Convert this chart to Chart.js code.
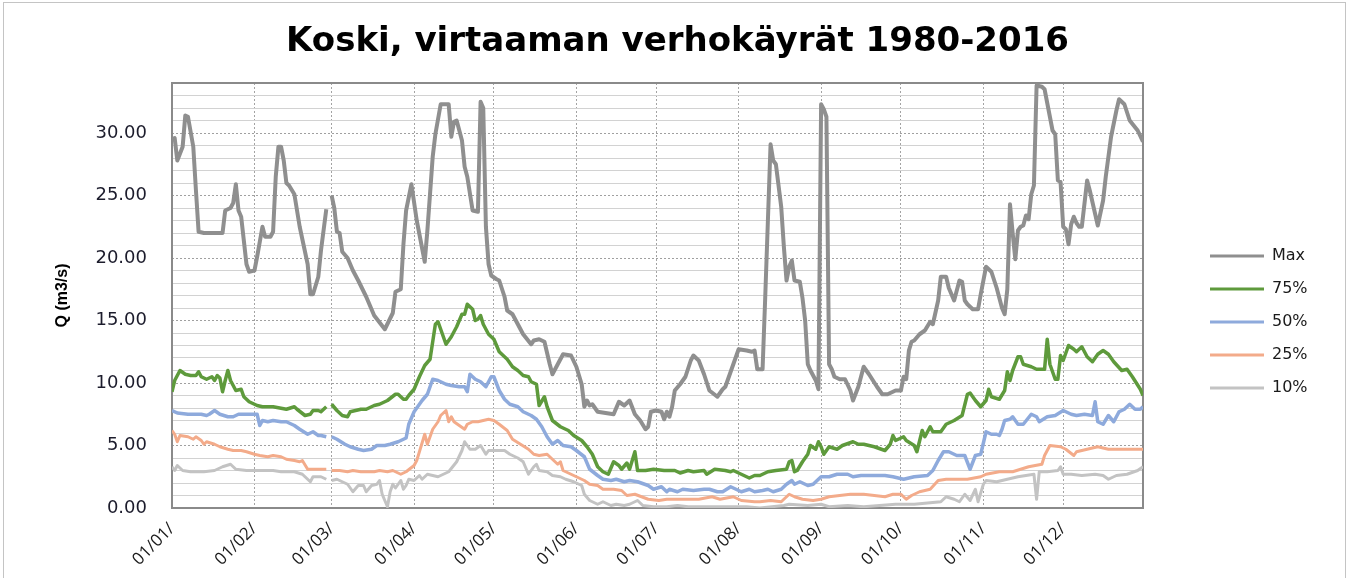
<!DOCTYPE html>
<html>
<head>
<meta charset="utf-8">
<script src="https://cdn.jsdelivr.net/npm/chart.js@4.4.0/dist/chart.umd.min.js"></script>
<style>
  html, body { margin: 0; padding: 0; background: #fff; }
  #wrap { position: relative; width: 1352px; height: 578px; overflow: hidden; }
  #frame { position: absolute; left: 3px; top: 2px; width: 1343px; height: 620px; border: 1px solid #c4c4c4; box-sizing: border-box; pointer-events: none; }
  canvas { display: block; }
</style>
</head>
<body>
<div id="wrap">
  <canvas id="chart" width="1352" height="578"></canvas>
  <div id="frame"></div>
</div>
<script>
// day of year (0 = 01/01, leap year), 59 = 29/02 left empty like the source sheet
const monthStartDays = [0, 31, 60, 91, 121, 152, 182, 213, 244, 274, 305, 335];
const monthLabels = ['01/01/', '01/02/', '01/03/', '01/04/', '01/05/', '01/06/', '01/07/', '01/08/', '01/09/', '01/10/', '01/11/', '01/12/'];

const seriesNames = ['Max', '75%', '50%', '25%', '10%'];
const seriesColors = ['#8f8f8f', '#5e9a3c', '#8eaadc', '#f3ab8a', '#c3c3c3'];

// [day, Q m3/s]
const flowMax = [
  [0, 29.5], [1, 29.6], [2, 27.8], [4, 28.9], [5, 31.4], [6, 31.3], [8, 28.9], [9, 25.4], [10, 22.1], [12, 22.0],
  [15, 22.0], [19, 22.0], [20, 23.8], [22, 24.0], [23, 24.4], [24, 25.9], [25, 23.8], [26, 23.3], [28, 19.5], [29, 18.9],
  [31, 19.0], [32, 20.1], [34, 22.5], [35, 21.7], [37, 21.7], [38, 22.1], [39, 26.5], [40, 28.9], [41, 28.9], [42, 27.8],
  [43, 26.0], [44, 25.8], [46, 25.1], [48, 22.5], [51, 19.5], [52, 17.1], [53, 17.1], [55, 18.5], [56, 20.6], [58, 23.9],
  [59, null],
  [60, 25.0], [61, 24.0], [62, 22.1], [63, 22.0], [64, 20.5], [66, 20.0], [68, 19.0], [70, 18.2], [73, 16.9], [76, 15.4],
  [80, 14.3], [83, 15.6], [84, 17.3], [86, 17.5], [87, 21.1], [88, 23.8], [90, 25.9], [92, 23.0], [95, 19.7], [96, 22.2],
  [98, 28.1], [99, 29.9], [101, 32.3], [104, 32.3], [105, 29.7], [106, 30.9], [107, 31.0], [109, 29.4], [110, 27.3], [111, 26.5],
  [113, 23.8], [115, 23.7], [116, 32.5], [117, 32.0], [118, 22.5], [119, 19.5], [120, 18.6], [122, 18.3], [123, 18.2], [125, 16.9],
  [126, 15.8], [128, 15.5], [130, 14.7], [132, 13.9], [135, 13.1], [136, 13.4], [138, 13.5], [140, 13.3], [142, 11.5], [143, 10.7],
  [145, 11.5], [147, 12.3], [150, 12.2], [152, 11.3], [154, 9.9], [155, 8.1], [156, 8.6], [157, 8.2], [158, 8.3], [160, 7.7],
  [166, 7.5], [168, 8.5], [170, 8.2], [172, 8.6], [174, 7.5], [176, 7.0], [178, 6.3], [179, 6.5], [180, 7.7], [182, 7.8],
  [184, 7.7], [185, 7.1], [186, 7.7], [187, 7.3], [188, 8.1], [189, 9.4], [191, 9.9], [193, 10.5], [195, 11.8], [196, 12.2],
  [198, 11.8], [200, 10.7], [202, 9.4], [205, 8.9], [207, 9.5], [208, 9.7], [211, 11.5], [213, 12.7], [216, 12.6], [218, 12.5],
  [219, 12.6], [220, 11.1], [222, 11.1], [223, 16.9], [225, 29.1], [226, 27.8], [227, 27.5], [229, 24.1], [230, 20.9], [231, 18.2],
  [232, 19.3], [233, 19.8], [234, 18.2], [236, 18.1], [237, 16.8], [238, 15.0], [239, 11.5], [240, 11.0], [242, 10.2], [243, 9.5],
  [244, 32.3], [245, 31.9], [246, 31.3], [247, 11.5], [248, 11.1], [249, 10.5], [251, 10.3], [253, 10.3], [255, 9.4], [256, 8.6],
  [258, 9.7], [260, 11.3], [262, 10.7], [265, 9.7], [267, 9.1], [269, 9.1], [272, 9.4], [274, 9.4], [275, 10.5], [276, 10.3],
  [277, 12.6], [278, 13.3], [279, 13.4], [281, 13.9], [283, 14.2], [285, 14.9], [286, 14.7], [288, 16.6], [289, 18.5], [291, 18.5],
  [292, 17.6], [294, 16.6], [296, 18.2], [297, 18.1], [298, 16.6], [299, 16.3], [301, 15.9], [303, 15.9], [304, 17.1], [306, 19.3],
  [308, 18.9], [310, 17.6], [312, 16.0], [313, 15.5], [314, 17.5], [315, 24.3], [316, 22.0], [317, 19.9], [318, 22.2], [319, 22.5],
  [320, 22.6], [321, 23.4], [322, 23.1], [323, 25.1], [324, 25.8], [325, 33.8], [327, 33.7], [328, 33.5], [331, 30.2], [332, 29.9],
  [333, 26.2], [334, 26.1], [335, 22.5], [336, 22.3], [337, 21.1], [338, 22.7], [339, 23.3], [340, 22.8], [341, 22.5], [342, 22.5],
  [344, 26.2], [345, 25.4], [348, 22.6], [350, 24.6], [351, 26.5], [353, 29.7], [355, 31.8], [356, 32.7], [358, 32.3], [360, 31.0],
  [363, 30.2], [365, 29.3]
];

const flow75 = [
  [0, 9.3], [1, 10.2], [3, 11.0], [5, 10.7], [7, 10.6], [9, 10.6], [10, 10.9], [11, 10.5], [13, 10.3], [15, 10.5],
  [16, 10.2], [17, 10.6], [18, 10.4], [19, 9.3], [20, 10.2], [21, 11.0], [22, 10.2], [24, 9.4], [26, 9.5], [27, 8.9],
  [28, 8.7], [29, 8.5], [32, 8.2], [34, 8.1], [38, 8.1], [43, 7.9], [46, 8.1], [47, 7.9], [50, 7.4], [52, 7.5],
  [53, 7.8], [55, 7.8], [56, 7.7], [58, 8.1],
  [59, null],
  [60, 8.3], [62, 7.8], [64, 7.4], [66, 7.3], [67, 7.7], [69, 7.8], [71, 7.9], [73, 7.9], [76, 8.2], [78, 8.3],
  [81, 8.6], [84, 9.1], [85, 9.1], [87, 8.7], [88, 8.7], [89, 9.0], [91, 9.5], [93, 10.5], [95, 11.4], [97, 11.9],
  [99, 14.7], [100, 14.9], [101, 14.3], [103, 13.1], [105, 13.7], [107, 14.5], [109, 15.5], [110, 15.5], [111, 16.3], [113, 15.9],
  [114, 15.0], [115, 15.1], [116, 15.4], [117, 14.7], [119, 13.9], [121, 13.5], [123, 12.5], [126, 11.9], [128, 11.3], [130, 11.0],
  [132, 10.6], [134, 10.5], [135, 10.1], [137, 9.9], [138, 8.2], [140, 8.9], [141, 8.1], [143, 7.0], [146, 6.5], [149, 6.2],
  [151, 5.8], [154, 5.4], [156, 4.9], [158, 4.3], [160, 3.3], [162, 2.9], [164, 2.7], [166, 3.7], [168, 3.4], [169, 3.1],
  [171, 3.6], [172, 3.1], [173, 3.8], [174, 4.5], [175, 3.0], [178, 3.0], [181, 3.1], [185, 3.0], [189, 3.0], [191, 2.8],
  [194, 3.0], [196, 2.9], [200, 3.0], [201, 2.7], [204, 3.1], [208, 3.0], [210, 2.9], [211, 3.0], [214, 2.7], [217, 2.4],
  [219, 2.6], [221, 2.6], [224, 2.9], [227, 3.0], [231, 3.1], [232, 3.7], [233, 3.8], [234, 2.9], [235, 3.0], [237, 3.7],
  [239, 4.3], [240, 5.0], [242, 4.7], [243, 5.3], [244, 4.9], [245, 4.3], [247, 4.9], [250, 4.7], [252, 5.0], [256, 5.3],
  [258, 5.1], [260, 5.1], [264, 4.9], [268, 4.6], [270, 5.1], [271, 5.8], [272, 5.4], [275, 5.7], [276, 5.4], [279, 5.0],
  [280, 4.5], [282, 6.2], [283, 5.7], [285, 6.5], [286, 6.1], [289, 6.1], [291, 6.7], [294, 7.0], [297, 7.4], [299, 9.1],
  [300, 9.2], [302, 8.6], [304, 8.1], [306, 8.6], [307, 9.5], [308, 8.9], [311, 8.7], [313, 9.4], [314, 10.9], [315, 10.2],
  [316, 11.0], [318, 12.1], [319, 12.1], [320, 11.5], [323, 11.3], [325, 11.1], [328, 11.1], [329, 13.5], [330, 11.5], [332, 10.3],
  [333, 10.3], [334, 12.2], [335, 11.8], [337, 13.0], [339, 12.7], [340, 12.5], [342, 12.9], [344, 12.1], [346, 11.7], [348, 12.3],
  [350, 12.6], [352, 12.3], [354, 11.7], [357, 11.0], [359, 11.1], [361, 10.5], [364, 9.5], [365, 9.0]
];

const flow50 = [
  [0, 7.8], [2, 7.6], [6, 7.5], [11, 7.5], [13, 7.4], [14, 7.5], [16, 7.8], [18, 7.5], [21, 7.3], [23, 7.3],
  [25, 7.5], [31, 7.5], [32, 7.5], [33, 6.6], [34, 7.0], [36, 6.9], [38, 7.0], [41, 6.9], [43, 6.9], [46, 6.6],
  [48, 6.3], [51, 5.9], [53, 6.1], [55, 5.8], [56, 5.8], [58, 5.7],
  [59, null],
  [60, 5.7], [62, 5.5], [65, 5.1], [67, 4.9], [70, 4.7], [72, 4.6], [75, 4.7], [77, 5.0], [80, 5.0], [82, 5.1],
  [85, 5.3], [87, 5.5], [88, 5.6], [89, 6.7], [91, 7.7], [94, 8.6], [96, 9.1], [98, 10.3], [100, 10.2], [103, 9.9],
  [105, 9.8], [108, 9.7], [110, 9.7], [111, 9.3], [112, 10.7], [114, 10.3], [116, 10.1], [118, 9.7], [120, 10.5], [121, 10.5],
  [123, 9.4], [125, 8.7], [127, 8.3], [130, 8.1], [132, 7.7], [135, 7.4], [137, 7.1], [139, 6.5], [141, 5.7], [143, 5.1],
  [145, 5.4], [147, 5.0], [150, 4.9], [152, 4.6], [155, 4.1], [157, 3.1], [160, 2.6], [162, 2.3], [165, 2.2], [167, 2.3],
  [170, 2.1], [172, 2.2], [175, 2.1], [179, 1.8], [181, 1.5], [184, 1.7], [186, 1.3], [187, 1.5], [190, 1.3], [192, 1.5],
  [196, 1.4], [200, 1.5], [202, 1.5], [205, 1.3], [207, 1.3], [210, 1.7], [212, 1.5], [214, 1.3], [217, 1.5], [219, 1.3],
  [222, 1.4], [224, 1.5], [226, 1.3], [229, 1.5], [231, 1.9], [233, 2.2], [234, 1.9], [236, 2.1], [239, 1.8], [241, 1.9],
  [244, 2.5], [247, 2.5], [250, 2.7], [254, 2.7], [256, 2.5], [259, 2.6], [264, 2.6], [268, 2.6], [271, 2.5], [275, 2.3],
  [279, 2.5], [284, 2.6], [286, 3.0], [288, 3.8], [290, 4.5], [292, 4.5], [295, 4.2], [298, 4.2], [300, 3.1], [302, 4.2],
  [304, 4.3], [306, 6.1], [308, 5.9], [310, 5.9], [311, 5.8], [312, 6.3], [313, 7.0], [315, 7.1], [316, 7.3], [318, 6.7],
  [320, 6.7], [323, 7.5], [325, 7.3], [326, 6.9], [329, 7.3], [332, 7.4], [335, 7.8], [338, 7.5], [340, 7.4], [343, 7.5],
  [346, 7.4], [347, 8.5], [348, 6.9], [350, 6.7], [352, 7.4], [354, 6.9], [356, 7.7], [358, 7.9], [360, 8.3], [362, 7.9],
  [364, 7.9], [365, 8.1]
];

const flow25 = [
  [0, 6.2], [1, 5.9], [2, 5.3], [3, 5.8], [6, 5.7], [8, 5.5], [9, 5.7], [11, 5.4], [12, 5.1], [13, 5.3],
  [16, 5.1], [18, 4.9], [21, 4.7], [23, 4.6], [26, 4.6], [28, 4.5], [31, 4.3], [33, 4.2], [36, 4.1], [38, 4.2],
  [41, 4.1], [43, 3.9], [46, 3.8], [48, 3.7], [49, 3.8], [51, 3.1], [53, 3.1], [56, 3.1], [58, 3.1],
  [59, null],
  [60, 3.0], [63, 3.0], [66, 2.9], [68, 3.0], [71, 2.9], [73, 2.9], [76, 2.9], [78, 3.0], [81, 2.9], [83, 3.0],
  [86, 2.7], [88, 2.9], [91, 3.4], [92, 3.8], [93, 4.5], [95, 5.9], [96, 5.1], [98, 6.3], [100, 6.9], [101, 7.4],
  [103, 7.8], [104, 6.9], [105, 7.3], [106, 6.9], [108, 6.6], [110, 6.3], [111, 6.7], [113, 6.9], [115, 6.9], [117, 7.0],
  [119, 7.1], [121, 7.0], [123, 6.7], [126, 6.2], [128, 5.5], [131, 5.1], [134, 4.7], [136, 4.3], [138, 4.2], [141, 4.3],
  [143, 3.9], [145, 3.5], [146, 3.7], [147, 3.0], [150, 2.7], [152, 2.5], [155, 2.2], [157, 1.9], [160, 1.8], [162, 1.5],
  [166, 1.5], [169, 1.4], [171, 1.0], [174, 1.1], [179, 0.7], [183, 0.6], [186, 0.7], [190, 0.7], [194, 0.7], [198, 0.7],
  [203, 0.9], [206, 0.7], [211, 0.9], [214, 0.6], [219, 0.5], [221, 0.5], [225, 0.6], [229, 0.5], [232, 1.1], [234, 0.9],
  [237, 0.7], [241, 0.6], [244, 0.7], [247, 0.9], [251, 1.0], [255, 1.1], [260, 1.1], [264, 1.0], [268, 0.9], [271, 1.1],
  [274, 1.1], [276, 0.7], [278, 1.0], [281, 1.3], [285, 1.5], [288, 2.2], [291, 2.3], [295, 2.3], [299, 2.3], [304, 2.5],
  [306, 2.7], [311, 2.9], [316, 2.9], [322, 3.3], [327, 3.5], [328, 4.2], [330, 5.0], [334, 4.9], [336, 4.7], [339, 4.2],
  [340, 4.5], [344, 4.7], [348, 4.9], [352, 4.7], [357, 4.7], [362, 4.7], [365, 4.7]
];

const flow10 = [
  [0, 3.3], [1, 3.0], [2, 3.4], [4, 3.0], [7, 2.9], [9, 2.9], [12, 2.9], [16, 3.0], [19, 3.3], [22, 3.5],
  [24, 3.1], [28, 3.0], [33, 3.0], [38, 3.0], [41, 2.9], [46, 2.9], [49, 2.7], [52, 2.1], [53, 2.5], [56, 2.5],
  [58, 2.3],
  [59, null],
  [60, 2.2], [62, 2.3], [64, 2.1], [66, 1.9], [68, 1.3], [70, 1.8], [72, 1.8], [73, 1.3], [75, 1.8], [77, 1.9],
  [78, 2.2], [79, 1.1], [81, 0.1], [82, 1.3], [83, 1.9], [84, 1.6], [86, 2.2], [87, 1.5], [88, 1.8], [89, 2.3],
  [91, 2.2], [93, 2.6], [94, 2.3], [96, 2.7], [98, 2.6], [100, 2.5], [102, 2.7], [104, 2.9], [107, 3.7], [109, 4.6],
  [110, 5.3], [112, 4.7], [114, 4.7], [116, 5.0], [118, 4.3], [119, 4.6], [122, 4.6], [125, 4.6], [127, 4.3], [130, 4.0],
  [132, 3.7], [134, 2.7], [136, 3.3], [137, 3.5], [138, 3.0], [141, 2.9], [143, 2.6], [146, 2.5], [148, 2.3], [151, 2.1],
  [154, 1.8], [155, 1.1], [157, 0.6], [160, 0.3], [162, 0.5], [165, 0.2], [167, 0.3], [170, 0.2], [172, 0.3], [175, 0.6],
  [177, 0.2], [181, 0.1], [186, 0.1], [190, 0.2], [194, 0.1], [199, 0.1], [205, 0.1], [211, 0.1], [216, 0.1], [221, 0.0],
  [230, 0.2], [232, 0.3], [239, 0.2], [244, 0.3], [247, 0.1], [254, 0.2], [260, 0.1], [266, 0.2], [272, 0.3], [279, 0.3],
  [284, 0.4], [289, 0.5], [291, 0.9], [294, 0.7], [296, 0.5], [298, 1.1], [300, 0.6], [302, 1.5], [303, 0.5], [305, 1.9],
  [306, 2.2], [310, 2.1], [314, 2.3], [318, 2.5], [321, 2.6], [324, 2.7], [325, 0.7], [326, 2.9], [329, 2.9], [333, 3.0],
  [334, 3.3], [335, 2.7], [338, 2.7], [342, 2.6], [347, 2.7], [350, 2.6], [352, 2.3], [355, 2.6], [359, 2.7], [363, 3.0],
  [365, 3.3]
];

const allSeries = [flowMax, flow75, flow50, flow25, flow10];
const lineWidths = [4, 3.5, 3.5, 3, 3];

const plotBox = { left: 172, top: 83, right: 1143, bottom: 508 };

// grey box round the plot area
const plotFrame = {
  id: 'plotFrame',
  beforeDatasetsDraw(chart) {
    const { ctx, chartArea: a } = chart;
    ctx.save();
    ctx.strokeStyle = '#8a8a8a';
    ctx.lineWidth = 2;
    ctx.strokeRect(a.left, a.top, a.right - a.left, a.bottom - a.top);
    ctx.restore();
  }
};

// legend sits away from the plot, like in Excel
const legendSpot = {
  id: 'legendSpot',
  beforeLayout(chart) {
    const lg = chart.legend;
    if (lg && !lg._fitWrapped) {
      const fit = lg.fit;
      lg.fit = function () {
        fit.call(this);
        this.width = 1352 - plotBox.right;
      };
      lg._fitWrapped = true;
    }
  },
  afterLayout(chart) {
    const lg = chart.legend;
    const w = lg.width;
    lg.left = 1210 - 17;
    lg.right = lg.left + w;
    lg.top = 83;
    lg.bottom = 561;
  }
};

const datasets = allSeries.map((s, i) => ({
  label: seriesNames[i],
  data: s.map(([x, y]) => ({ x: x, y: y })),
  borderColor: seriesColors[i],
  backgroundColor: seriesColors[i],
  borderWidth: lineWidths[i],
  pointRadius: 0,
  tension: 0,
  spanGaps: false,
  borderJoinStyle: 'round'
}));

new Chart(document.getElementById('chart'), {
  type: 'line',
  data: { datasets: datasets },
  plugins: [plotFrame, legendSpot],
  options: {
    responsive: false,
    animation: false,
    devicePixelRatio: 1,
    layout: { padding: { left: 3, right: 0, top: 0, bottom: 3 } },
    scales: {
      x: {
        type: 'linear',
        min: 0,
        max: 365,
        afterBuildTicks: (scale) => {
          scale.ticks = monthStartDays.map(v => ({ value: v }));
        },
        afterFit: (scale) => { scale.height = 578 - 3 - plotBox.bottom; },
        ticks: {
          autoSkip: false,
          minRotation: 45,
          maxRotation: 45,
          padding: 11,
          color: '#1a1a1a',
          font: { family: 'Open Sans', size: 17 },
          callback: (value, index) => monthLabels[index]
        },
        grid: { color: '#a3a3a3', lineWidth: 1, drawTicks: false },
        border: { display: false, dash: [2, 2] }
      },
      y: {
        min: 0,
        max: 34,
        afterFit: (scale) => { scale.width = plotBox.left - 3; },
        ticks: {
          stepSize: 1,
          autoSkip: false,
          padding: 25,
          color: '#1c1c2c',
          font: { family: 'DejaVu Sans', size: 18 },
          callback: (v) => (v % 5 === 0 ? v.toFixed(2) : '')
        },
        grid: {
          drawTicks: false,
          lineWidth: 1,
          color: (c) => (c.tick && c.tick.value % 5 === 0 ? 'rgba(0,0,0,0)' : '#d2d2d2')
        },
        border: { display: false },
        title: {
          display: true,
          text: 'Q (m3/s)',
          color: '#000',
          font: { family: 'Liberation Sans', size: 16, weight: 'bold' },
          padding: { top: 50, bottom: 0 }
        }
      },
      yMajor: {
        position: 'left',
        min: 0,
        max: 34,
        afterFit: (scale) => { scale.width = 0; },
        ticks: { stepSize: 5, display: false },
        grid: {
          drawTicks: false,
          lineWidth: 1,
          color: (c) => (c.tick && c.tick.value > 0 ? '#a0a0a0' : 'rgba(0,0,0,0)')
        },
        border: { display: false, dash: [2, 2] }
      }
    },
    plugins: {
      title: {
        display: true,
        text: 'Koski, virtaaman verhokäyrät 1980-2016',
        color: '#000',
        font: { family: 'DejaVu Sans', size: 34, weight: 'bold', lineHeight: 1.2 },
        padding: { top: 22, bottom: 20.2 }
      },
      legend: {
        position: 'right',
        align: 'center',
        labels: {
          boxWidth: 54,
          boxHeight: 3,
          padding: 17,
          color: '#1a1a1a',
          font: { family: 'DejaVu Sans', size: 16 },
          generateLabels: (chart) => Chart.defaults.plugins.legend.labels.generateLabels(chart)
            .map(item => Object.assign(item, { lineWidth: 0, fillStyle: item.strokeStyle }))
        }
      },
      tooltip: { enabled: false }
    }
  }
});
</script>
</body>
</html>
